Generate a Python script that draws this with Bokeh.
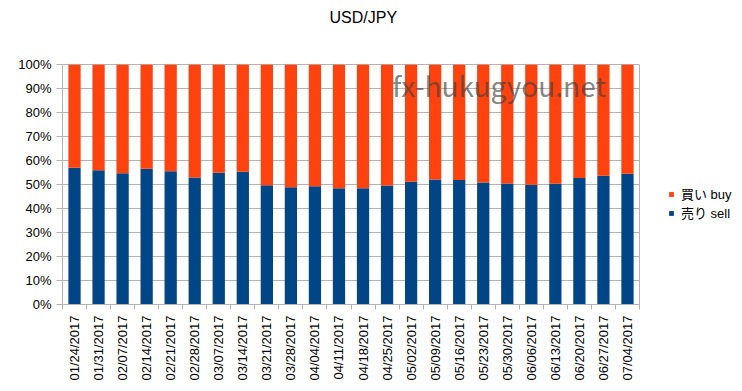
import math
from bokeh.plotting import figure
from bokeh.models import (Range1d, FixedTicker, PrintfTickFormatter, Legend,
                          LegendItem, Label, Title, ColumnDataSource)
from bokeh.embed import file_html
from bokeh.resources import INLINE

dates = ["01/24/2017", "01/31/2017", "02/07/2017", "02/14/2017", "02/21/2017",
         "02/28/2017", "03/07/2017", "03/14/2017", "03/21/2017", "03/28/2017",
         "04/04/2017", "04/11/2017", "04/18/2017", "04/25/2017", "05/02/2017",
         "05/09/2017", "05/16/2017", "05/23/2017", "05/30/2017", "06/06/2017",
         "06/13/2017", "06/20/2017", "06/27/2017", "07/04/2017"]
sell = [57.0, 55.9, 54.7, 56.6, 55.5, 52.9, 54.9, 55.3, 49.7, 48.9,
        49.3, 48.4, 48.4, 49.6, 51.1, 52.1, 51.9, 50.8, 50.4, 49.9,
        50.3, 52.7, 53.6, 54.5]
buy = [43.0, 44.1, 45.3, 43.4, 44.5, 47.1, 45.1, 44.7, 50.3, 51.1,
       50.7, 51.6, 51.6, 50.4, 48.9, 47.9, 48.1, 49.2, 49.6, 50.1,
       49.7, 47.3, 46.4, 45.5]
y_ticks = [0, 10, 20, 30, 40, 50, 60, 70, 80, 90, 100]
series_names = ["売り sell", "買い buy"]
colors = ["#004586", "#ff420e"]

idx = list(range(len(dates)))
src = ColumnDataSource(dict(x=idx, sell=sell, buy=buy))

p = figure(frame_width=577, frame_height=240, output_backend="svg",
           toolbar_location=None, title=None,
           x_range=Range1d(-0.5, len(dates) - 0.5), y_range=Range1d(0, 100),
           min_border_left=62, min_border_right=87, min_border_top=64,
           min_border_bottom=71)

renderers = p.vbar_stack(["sell", "buy"], x="x", width=0.51, source=src,
                         color=colors, line_color=None)

# spacer panel between frame and title (pushes title to the top)
p.add_layout(Title(text=" ", text_font_size="1px", standoff=32), "above")
p.add_layout(Title(text="USD/JPY", align="left", offset=267, standoff=8,
                   text_font="Liberation Sans", text_font_size="16px",
                   text_font_style="normal", text_color="#000000"), "above")

grey = "#b3b3b3"
p.outline_line_color = grey
p.xgrid.grid_line_color = None
p.ygrid.grid_line_color = grey
p.ygrid.ticker = FixedTicker(ticks=y_ticks)

ya = p.yaxis[0]
ya.ticker = FixedTicker(ticks=y_ticks)
ya.formatter = PrintfTickFormatter(format="%d%%")
ya.axis_line_color = grey
ya.major_tick_line_color = grey
ya.major_tick_out = 6
ya.major_tick_in = 0
ya.minor_tick_line_color = None
ya.major_label_text_font = "Liberation Sans"
ya.major_label_text_font_size = "13px"
ya.major_label_text_color = "#000000"
ya.major_label_standoff = 5

xa = p.xaxis[0]
xa.ticker = FixedTicker(ticks=idx, minor_ticks=[i - 0.5 for i in range(len(dates) + 1)])
xa.major_label_overrides = {i: d for i, d in zip(idx, dates)}
xa.major_label_orientation = math.pi / 2
xa.axis_line_color = grey
xa.major_tick_line_color = None
xa.major_tick_out = 0
xa.major_tick_in = 0
xa.minor_tick_line_color = grey
xa.minor_tick_out = 5
xa.minor_tick_in = 0
xa.major_label_text_font = "Liberation Sans"
xa.major_label_text_font_size = "13px"
xa.major_label_text_color = "#000000"
xa.major_label_standoff = 6

legend = Legend(items=[LegendItem(label=series_names[1], renderers=[renderers[1]]),
                       LegendItem(label=series_names[0], renderers=[renderers[0]])],
                location=(29, 82), orientation="vertical")
legend.border_line_color = None
legend.background_fill_alpha = 0
legend.padding = 0
legend.margin = 0
legend.spacing = -3
legend.glyph_width = 6
legend.glyph_height = 6
legend.label_height = 13
legend.label_standoff = 7
legend.label_text_font = "'Liberation Sans', 'Noto Sans CJK JP'"
legend.label_text_font_size = "13px"
legend.label_text_color = "#000000"
p.add_layout(legend, "right")

wm = Label(x=13.22, y=91.5, text="fx-hukugyou.net", text_font="Noto Sans CJK JP",
           text_font_size="28px", text_color="#404040", text_alpha=0.65,
           text_baseline="alphabetic")
p.add_layout(wm)

open("out.html", "w").write(file_html(p, INLINE))
